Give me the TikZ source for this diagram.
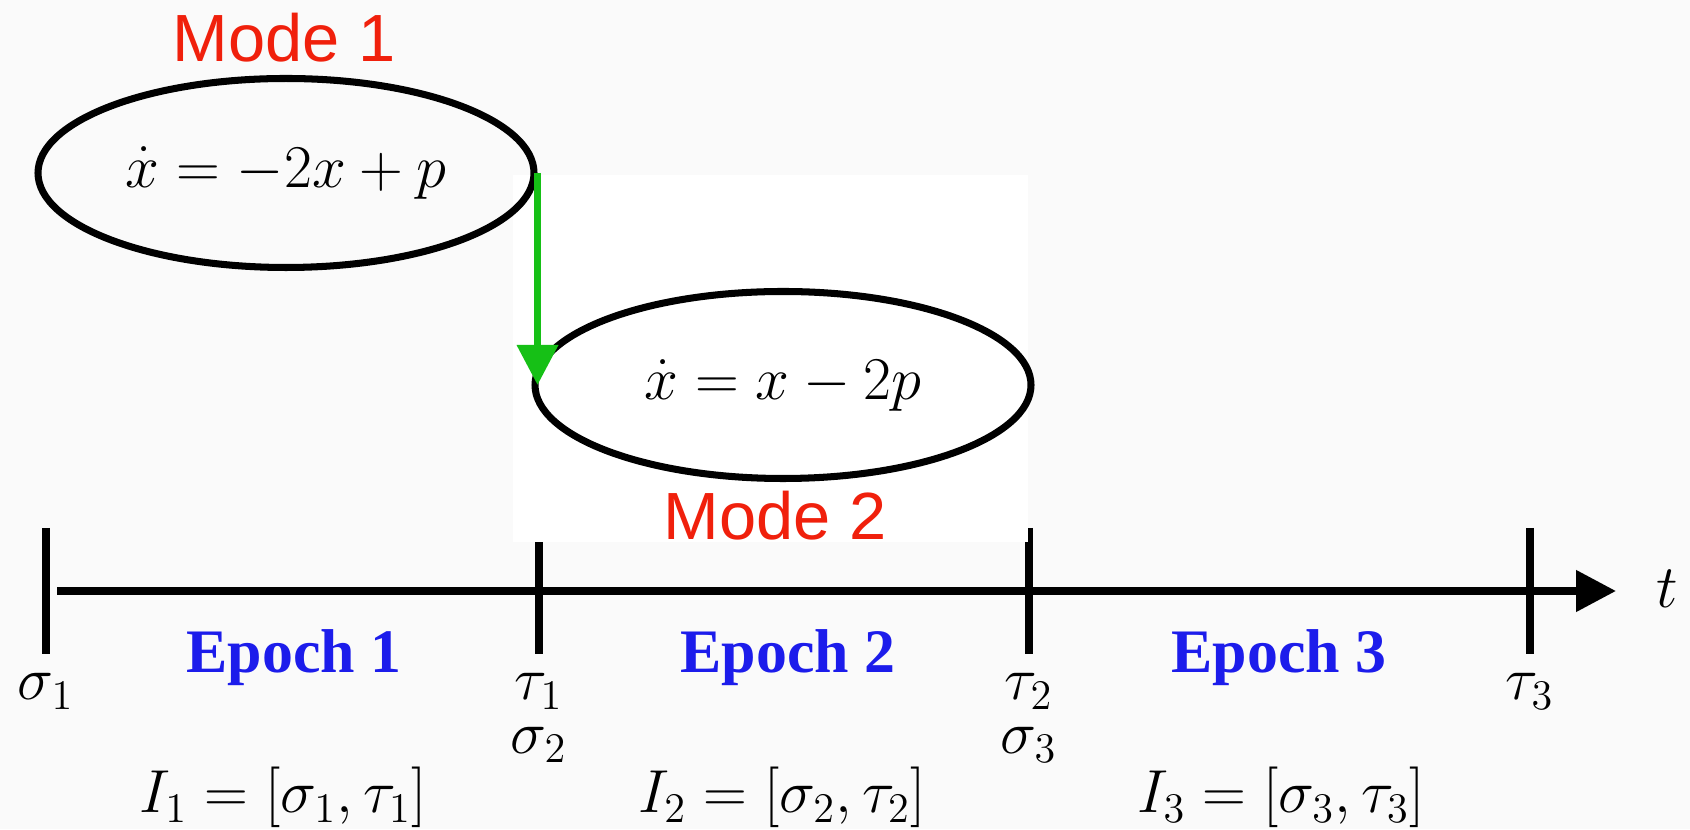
\documentclass[tikz,border=0pt]{standalone}
\usepackage{amsmath}
\usepackage{fontspec}
\usepackage{xcolor}
\usepackage{tikz}
\usetikzlibrary{arrows.meta,positioning,calc,shapes.geometric}
\newfontfamily\modefont{Liberation Sans}
\newfontfamily\epochfont{Liberation Serif}
\definecolor{mred}{RGB}{240,32,12}
\definecolor{mgreen}{RGB}{22,192,22}
\definecolor{eblue}{RGB}{28,28,235}
\definecolor{paper}{RGB}{250,250,250}
\tikzset{
  modeell/.style={ellipse, draw=black, line width=2pt, inner sep=0pt, font=\fontsize{17.6pt}{21pt}\selectfont},
  modelab/.style={mred, anchor=base, font=\modefont\fontsize{19pt}{22pt}\selectfont},
  epochlab/.style={eblue, anchor=base, font=\epochfont\bfseries\fontsize{17.6pt}{21pt}\selectfont},
  ticklab/.style={anchor=base, inner sep=0pt},
  tickln/.style={line width=2.1pt},
  timearr/.style={-{Triangle[length=0.40cm,width=0.40cm]}, line width=2.2pt},
  jump/.style={-{Triangle[length=0.40cm,width=0.40cm]}, mgreen, line width=2pt},
}

\begin{document}
\begin{tikzpicture}[font=\fontsize{17.6pt}{21pt}\selectfont]
  \fill[paper] (0,0) rectangle (16.9,8.29);
  \useasboundingbox (0,0) rectangle (16.9,8.29);
  % time axis
  \coordinate (ax0) at (0.57,2.38);
  \coordinate (ax1) at (16.16,2.38);
  \draw[timearr] (ax0) -- (ax1);
  \node[ticklab] (t) at (16.67,2.21) {$t$};
  \foreach \n/\x in {k0/0.46,k1/5.39,k2/10.29,k3/15.30} {
    \coordinate (\n) at (\x,2.38);
    \draw[tickln] ($(\n)+(0,0.63)$) -- ($(\n)+(0,-0.63)$);
  }
  % white patch behind mode 2
  \fill[white] (5.13,2.87) rectangle (10.28,6.54);
  % the two modes
  \node[modeell, minimum width=4.96cm, minimum height=1.89cm] (e1) at (2.86,6.56) {$\dot{x} = -2x + p$};
  \node[modeell, minimum width=4.96cm, minimum height=1.87cm] (e2) at (7.83,4.44) {$\dot{x} = x - 2p$};
  \node[modelab] (m1) at (2.84,7.67) {Mode 1};
  \node[modelab] (m2) at (7.75,2.89) {Mode 2};
  \draw[jump] (e1.east) -- (e1.east |- e2.west);
  \node[ticklab] (s1) at (0.46,1.29) {$\sigma_1$};
  \node[ticklab] (ta1) at (5.39,1.29) {$\tau_1$};
  \node[ticklab] (s2) at (5.39,0.76) {$\sigma_2$};
  \node[ticklab] (ta2) at (10.29,1.29) {$\tau_2$};
  \node[ticklab] (s3) at (10.29,0.76) {$\sigma_3$};
  \node[ticklab] (ta3) at (15.30,1.29) {$\tau_3$};
  % epochs and intervals
  \foreach \i/\x in {1/2.94,2/7.88,3/12.79} {
    \node[epochlab] (ep\i) at (\x,1.56) {Epoch \i};
  }
  \node[ticklab] (i1) at (2.83,0.16) {$I_1 = [\sigma_1, \tau_1]$};
  \node[ticklab] (i2) at (7.82,0.16) {$I_2 = [\sigma_2, \tau_2]$};
  \node[ticklab] (i3) at (12.81,0.16) {$I_3 = [\sigma_3, \tau_3]$};
\end{tikzpicture}
\end{document}
